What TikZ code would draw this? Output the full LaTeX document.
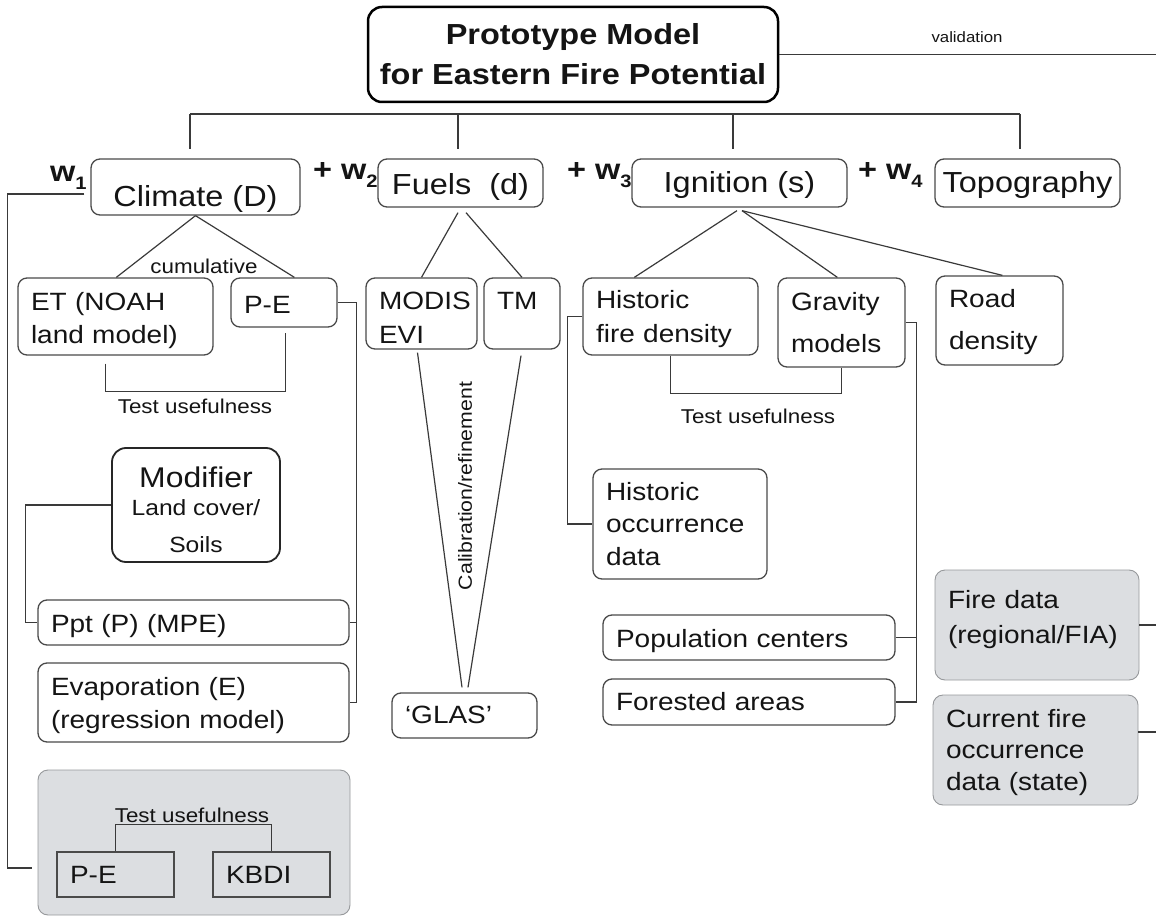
\documentclass[tikz,border=0pt]{standalone}
\usepackage{fontspec}
\setmainfont{Liberation Sans}[FakeStretch=1.12]
\usetikzlibrary{calc}
\definecolor{linec}{RGB}{58,58,58}
\definecolor{bordc}{RGB}{74,74,74}
\definecolor{txtc}{RGB}{20,20,20}
\definecolor{gfill}{RGB}{220,222,225}
\definecolor{gbord}{RGB}{150,152,155}
\newcommand\fs[2]{\fontsize{#1}{#2}\selectfont}
\newcommand\wsub[1]{\raisebox{-8pt}{\fontsize{18}{18}\selectfont\bfseries #1}}
\tikzset{
  ln/.style={draw=linec, line width=1.2pt},
  bx/.style={draw=bordc, line width=1.3pt, rounded corners=9pt, inner xsep=13pt, inner ysep=0pt, text=txtc, align=left},
  cbx/.style={bx, align=center, inner xsep=0pt},
  gbx/.style={fill=gfill, draw=gbord, line width=0.9pt, rounded corners=10pt, inner xsep=13pt, inner ysep=0pt, text=txtc, align=left},
  sqbx/.style={draw=bordc, line width=1.3pt, inner xsep=13pt, inner ysep=0pt, text=txtc, align=left},
  tdp/.style={text height=0pt, text depth=#1},
  tht/.style={text height=#1, text depth=0pt},
  lab/.style={inner sep=0pt, text=txtc, anchor=base},
  wl/.style={inner sep=0pt, text=txtc, anchor=base west, font=\fs{29}{29}\bfseries},
}
\begin{document}
\begin{tikzpicture}[x=1pt,y=-1pt]
\useasboundingbox (0,0) rectangle (1156,917);
\coordinate (rgt) at (1156,0);

% top
\node[cbx, draw=black, line width=2.5pt, rounded corners=14pt, minimum width=410pt, minimum height=95pt,
      font=\fs{29}{40}\bfseries, tht=61pt] (top) at (573,54.5) {Prototype Model\\for Eastern Fire Potential};

% level 1
\node[cbx, minimum width=209pt, minimum height=56pt, font=\fs{29}{29}, tht=40pt] (clim) at (195.5,187) {Climate (D)};
\node[cbx, minimum width=165pt, minimum height=48pt, font=\fs{29}{29}, tht=24pt] (fuel) at (460.5,183) {Fuels\ \ (d)};
\node[cbx, minimum width=215pt, minimum height=48pt, font=\fs{29}{29}, tht=20pt] (ign) at (739.5,183) {Ignition (s)};
\node[cbx, minimum width=185pt, minimum height=48pt, font=\fs{29}{29}, tht=20pt] (topo) at (1027.5,183) {Topography};

\node[wl] (w1) at (50,182) {w\wsub{1}};
\node[wl] (w2) at (313,180) {+ w\wsub{2}};
\node[wl] (w3) at (567,180) {+ w\wsub{3}};
\node[wl] (w4) at (858,180) {+ w\wsub{4}};

% climate branch
\node[bx, minimum width=195pt, minimum height=77pt, text width=169pt, font=\fs{25}{33}, tdp=13pt] (et) at (115.5,316.5) {ET (NOAH\\land model)};
\node[bx, minimum width=106pt, minimum height=49pt, text width=80pt, font=\fs{25}{25}, tht=21pt] (pe) at (284,302.5) {P-E};
\node[cbx, draw=black!85, line width=1.8pt, rounded corners=14pt, minimum width=168pt, minimum height=114pt, tht=94pt, font=\fs{22}{28}]
  (mod) at (196,505) {\fs{28.5}{28}Modifier\\Land cover/\\[9pt]Soils};
\node[bx, minimum width=311pt, minimum height=45pt, text width=285pt, font=\fs{25}{25}, tht=19pt] (ppt) at (193.5,622.5) {Ppt (P) (MPE)};
\node[bx, minimum width=311pt, minimum height=79pt, text width=285pt, font=\fs{25}{33}, tdp=15pt] (evap) at (193.5,702.5) {Evaporation (E)\\(regression model)};
\node[gbx, minimum width=312pt, minimum height=145pt] (gray1) at (194,842.5) {};
\node[sqbx, minimum width=117pt, minimum height=45pt, text width=91pt, font=\fs{25}{25}, tht=17pt] (pe2) at (115.5,874.5) {P-E};
\node[sqbx, minimum width=117pt, minimum height=45pt, text width=91pt, font=\fs{25}{25}, tht=17pt] (kbdi) at (271.5,874.5) {KBDI};

% fuels branch
\node[bx, minimum width=111pt, minimum height=71pt, text width=85pt, font=\fs{25}{34}, tdp=9pt] (modis) at (421.5,313.5) {MODIS\\EVI};
\node[bx, minimum width=76pt, minimum height=71pt, text width=50pt, font=\fs{25}{34}, tdp=9pt] (tm) at (522,313.5) {TM};
\node[bx, minimum width=145pt, minimum height=45pt, text width=119pt, font=\fs{25}{25}, tht=15pt] (glas) at (464.5,715.5) {‘GLAS’};

% ignition branch
\node[bx, minimum width=175pt, minimum height=77pt, text width=149pt, font=\fs{25}{34}, tdp=17pt] (hist) at (670.5,316.5) {Historic\\fire density};
\node[bx, minimum width=127pt, minimum height=89pt, text width=101pt, font=\fs{25}{42}, tdp=25pt] (grav) at (841.5,322.5) {Gravity\\models};
\node[bx, minimum width=127pt, minimum height=89pt, text width=101pt, font=\fs{25}{42}, tdp=27pt] (road) at (999.5,320.5) {Road\\density};
\node[bx, minimum width=174pt, minimum height=110pt, text width=148pt, font=\fs{25}{32.5}, tdp=48pt] (hocc) at (680,524) {Historic\\occurrence\\data};
\node[bx, minimum width=292pt, minimum height=45pt, text width=266pt, font=\fs{25}{25}, tht=19pt] (pop) at (749,637.5) {Population centers};
\node[bx, minimum width=292pt, minimum height=46pt, text width=266pt, font=\fs{25}{25}, tht=16pt] (forest) at (749,702) {Forested areas};
\node[gbx, minimum width=204pt, minimum height=110pt, text width=178pt, font=\fs{25}{35}, tdp=34pt] (fire) at (1037,625) {Fire data\\(regional/FIA)};
\node[gbx, minimum width=205pt, minimum height=110pt, text width=179pt, font=\fs{25}{31.5}, tdp=46pt] (cur) at (1035.5,750) {Current fire\\occurrence\\data (state)};

% labels
\node[lab, font=\fs{15}{15}] (val) at (967,43) {validation};
\node[lab, font=\fs{20}{20}] (cum) at (204,274) {cumulative};
\node[lab, font=\fs{20}{20}] (tu1) at (195,413) {Test usefulness};
\node[lab, font=\fs{20}{20}] (tu2) at (758,423) {Test usefulness};
\node[lab, font=\fs{20}{20}] (tu3) at (192,822) {Test usefulness};
\node[inner sep=0pt, text=txtc, rotate=90, font=\fs{19}{19}] (calib) at (465,486) {Calibration/refinement};

% connectors: top
\draw[ln] (top.east) -- (top.east -| rgt);
\coordinate (b1) at (190,114);
\coordinate (b2) at (458,114);
\coordinate (b3) at (733,114);
\coordinate (b4) at (1020,114);
\draw[ln] (b1) -- (b4);
\draw[ln] (b1) -- ([yshift=9pt]b1 |- clim.north);
\draw[ln] (b2) -- ([yshift=9pt]b2 |- fuel.north);
\draw[ln] (b3) -- ([yshift=9pt]b3 |- ign.north);
\draw[ln] (b4) -- ([yshift=9pt]b4 |- topo.north);

% climate
\draw[ln] ($(clim.west)+(-6,7)$) -- ++(-77,0) |- ($(gray1.west)+(-6,25.5)$);
\draw[ln] (clim.south) -- ([xshift=99pt]et.north west);
\draw[ln] (clim.south) -- ([xshift=64pt]pe.north west);
\draw[ln] ($(et.south west)+(88,8)$) -- ++(0,28) -| ($(pe.south west)+(55,5)$);
\draw[ln] (pe.east) -| ($(evap.east)+(7,0)$) -- (evap.east);
\draw[ln] (ppt.east) -- ++(7,0);
\draw[ln] (mod.west) -- ++(-86,0) |- (ppt.west);
\draw[ln] (pe2.north) -- ++(0,-27) -| (kbdi.north);

% fuels
\draw[ln] ($(fuel.south)+(-2.5,5)$) -- (modis.north);
\draw[ln] ($(fuel.south)+(5.5,5)$) -- (tm.north);
\draw[ln] ($(modis.south)+(-4,3)$) -- ($(glas.north)+(-2.5,-5)$);
\draw[ln] ($(tm.south)+(-1,6)$) -- ($(glas.north)+(3.5,-5)$);

% ignition
\draw[ln] ($(ign.south)+(-2.5,3)$) -- ([xshift=52pt]hist.north west);
\draw[ln] ($(ign.south)+(2.5,3)$) -- ([xshift=60pt]grav.north west);
\draw[ln] ($(ign.south)+(2.5,3)$) -- ([xshift=67pt]road.north west);
\draw[ln] (hist.west) -- ++(-15,0) |- (hocc.west);
\draw[ln] ([xshift=88pt]hist.south west) -- ++(0,38) -| (grav.south);
\draw[ln] (grav.east) -| ($(forest.east)+(21,0)$) -- (forest.east);
\draw[ln] (pop.east) -- ++(21,0);
\draw[ln] (fire.east) -- (fire.east -| rgt);
\draw[ln] ($(cur.east)+(0,-18)$) -- ++(18,0);
\end{tikzpicture}
\end{document}
